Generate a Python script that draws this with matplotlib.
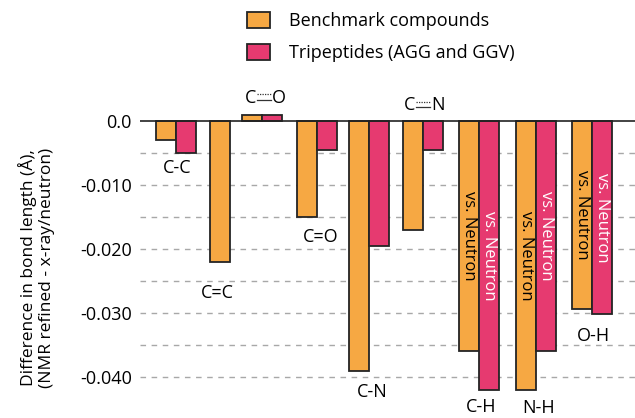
import matplotlib

matplotlib.use("Agg")
import matplotlib.pyplot as plt
import matplotlib.transforms as mtransforms
import numpy as np
from matplotlib.patches import Patch

# data (difference in bond length, angstrom)
bonds = ["C-C", "C=C", "C\u2261O", "C=O", "C-N", "C\u2261N", "C-H", "N-H", "O-H"]
benchmark = [-0.003, -0.022, 0.001, -0.015, -0.039, -0.017, -0.036, -0.042, -0.0294]
tripeptides = [-0.005, np.nan, 0.001, -0.0045, -0.0195, -0.0045, -0.042, -0.036, -0.0302]
neutron_bonds = ["C-H", "N-H", "O-H"]
series_names = ["Benchmark compounds", "Tripeptides (AGG and GGV)"]
ytick_values = [0.0, -0.010, -0.020, -0.030, -0.040]
ytick_labels = ["0.0", "-0.010", "-0.020", "-0.030", "-0.040"]

# layout (x in pixel-like units across the axes)
group_x = [36, 79.5, 122, 177, 229, 283, 339, 396, 452]
label_dx = [1, -2, 2, 4, 3, 0, 2, 3, 1]
label_y = [-0.0073, -0.0269, 0.0036, -0.0181, -0.0424, 0.0025, -0.0447, -0.0449, -0.0336]
bar_w = 20

ORANGE = "#F6A843"
PINK = "#E63A70"
EDGE = "#242424"

plt.rcParams["font.family"] = ["Open Sans", "DejaVu Sans"]
plt.rcParams["font.size"] = 13

fig = plt.figure(figsize=(6.35, 4.18), dpi=100)
ax = fig.add_axes([140 / 635, 1 - 409 / 418, 495 / 635, (409 - 101.8) / 418])
ax.set_xlim(0, 495)
ax.set_ylim(-0.045, 0.003)

for i, name in enumerate(bonds):
    x = group_x[i]
    has_pink = not np.isnan(tripeptides[i])
    ox = x - bar_w / 2 if has_pink else x
    ax.bar(ox, benchmark[i], width=bar_w, color=ORANGE, edgecolor=EDGE,
           linewidth=1.3, zorder=3)
    if has_pink:
        ax.bar(x + bar_w / 2, tripeptides[i], width=bar_w, color=PINK,
               edgecolor=EDGE, linewidth=1.3, zorder=3)

    if name in neutron_bonds:
        ax.text(ox, benchmark[i] / 2, "vs. Neutron", rotation=-90, ha="center",
                va="center", color="black", fontsize=12, zorder=4)
        ax.text(x + bar_w / 2, tripeptides[i] / 2, "vs. Neutron", rotation=-90,
                ha="center", va="center", color="white", fontsize=12, zorder=4)

    lx = x + label_dx[i]
    ly = label_y[i]
    if "\u2261" in name:
        # partial triple bond: solid line with dotted line on top
        left, right = name.split("\u2261")
        ax.text(lx - 8, ly, left, ha="right", va="center")
        ax.text(lx + 8, ly, right, ha="left", va="center")
        for dy, ls in [(-1.5, "-"), (2.5, (0, (1, 1)))]:
            off = mtransforms.ScaledTranslation(0, dy / 72, fig.dpi_scale_trans)
            ax.plot([lx - 7, lx + 7], [ly, ly], color="#333333", lw=0.9,
                    ls=ls, transform=ax.transData + off, clip_on=False)
    else:
        ax.text(lx, ly, name, ha="center", va="center")

# grid: dashed every 0.005, solid zero line
for v in np.arange(-0.040, -0.001, 0.005):
    ax.axhline(v, color="#a8a8a8", lw=1.0, ls=(0, (4, 4)), zorder=1)
ax.axhline(0, color="#222222", lw=1.2, zorder=5)

ax.set_yticks(ytick_values)
ax.set_yticklabels(ytick_labels)
ax.tick_params(axis="y", length=0, pad=6, labelsize=13)
ax.set_xticks([])
for s in ax.spines.values():
    s.set_visible(False)

fig.text(0.058, 0.36,
         "Difference in bond length (\u00c5),\n(NMR refined - x-ray/neutron)",
         rotation=90, ha="center", va="center", fontsize=12.5, linespacing=1.15)

handles = [Patch(facecolor=ORANGE, edgecolor=EDGE, linewidth=1.3),
           Patch(facecolor=PINK, edgecolor=EDGE, linewidth=1.3)]
fig.legend(handles, series_names, loc="upper left",
           bbox_to_anchor=(247 / 635, 1 - 12 / 418), frameon=False,
           handlelength=1.3, handleheight=1.0, handletextpad=1.0,
           labelspacing=0.75, borderpad=0, borderaxespad=0, fontsize=13)

fig.savefig("out.png", dpi=100)
